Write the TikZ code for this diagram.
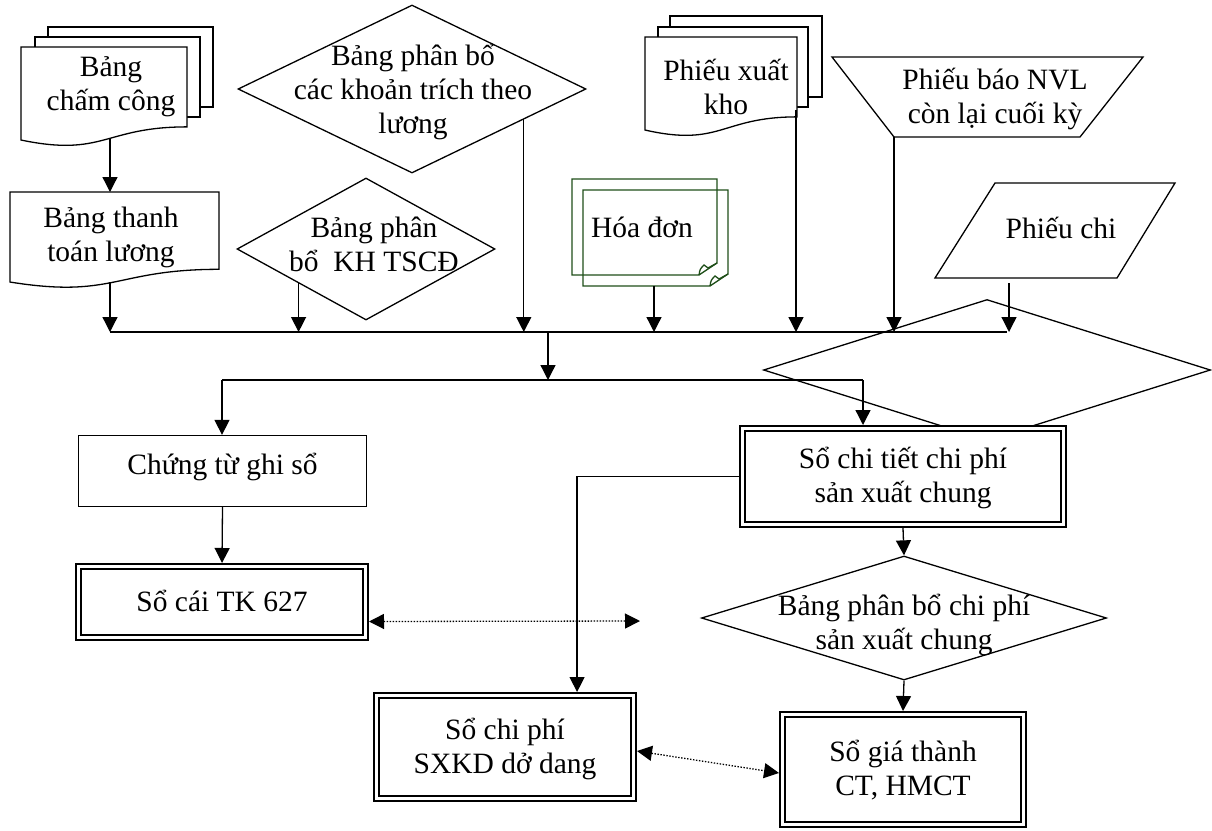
\documentclass[tikz,border=0pt]{standalone}
\usepackage{fontspec}
\setmainfont{Liberation Serif}
\usetikzlibrary{arrows.meta,shapes.geometric,calc}
\definecolor{sheetgreen}{RGB}{30,78,24}

% label font: lines always exactly one baselineskip apart
\newcommand\lblfont{\fontsize{29.5pt}{34pt}\selectfont\setlength{\lineskiplimit}{-100pt}}
% fixed line strut so that every label line has the same height and depth
\newcommand\ls{\rule[-8pt]{0pt}{34pt}}

% document sheet with a wavy lower edge: #1,#2 top-left corner, #3 width, #4 nominal height
\newcommand\docsheet[4]{%
  \draw[fill=white] (#1,#2) -- ({#1+#3},#2) -- ({#1+#3},{#2+0.802*#4})
    .. controls ({#1+0.5*#3},{#2+0.802*#4}) and ({#1+0.5*#3},{#2+1.1075*#4}) ..
    (#1,{#2+0.934*#4}) -- cycle;}

% sheet with a folded lower-right corner: #1,#2 top-left, #3,#4 bottom-right
\newcommand\foldedsheet[4]{%
  \draw[sheet] (#1,#2) -- (#3,#2) -- (#3,{#4-12}) -- ({#3-18},#4) -- (#1,#4) -- cycle;
  \draw[sheet] ({#3-18},#4) .. controls ({#3-17},{#4-6}) .. ({#3-13},{#4-10})
    -- ({#3-9},{#4-7}) -- (#3,{#4-12});}

\begin{document}
\begin{tikzpicture}[x=1pt,y=-1pt,line width=1.3pt,
  lbl/.style={font=\lblfont, align=center, inner sep=0pt},
  arr/.style={-{Triangle[length=15pt,width=15pt]}},
  dotarr/.style={{Triangle[length=15pt,width=15pt]}-{Triangle[length=15pt,width=15pt]},
                 dash pattern=on 1.4pt off 1.6pt},
  plainbox/.style={draw, fill=white, lbl},
  ledger/.style={draw, double, line width=2.4pt, double distance=2.2pt,
                 fill=white, outer sep=3.5pt, lbl},
  decision/.style={draw, diamond, inner sep=0pt},
  sheet/.style={draw=sheetgreen, line width=1.3pt}]

\useasboundingbox (0,0) rectangle (1212,830);

% ---------- source documents ----------
% Bảng chấm công (stack of sheets)
\draw[fill=white] (48,27) rectangle (213,107);
\draw[fill=white] (35,37) rectangle (200,117);
\docsheet{21}{47}{166}{99.6}
\node[lbl] (cc) at (111,84) {\ls Bảng\\\ls chấm công};
\coordinate (cc-out) at (110,139);

% Bảng thanh toán lương
\docsheet{10}{192}{209}{96.4}
\node[lbl] (tt) at (111,235) {\ls Bảng thanh\\\ls toán lương};
\coordinate (tt-in) at (110,192);
\coordinate (tt-out) at (110,282);

% Bảng phân bổ các khoản trích theo lương
\node[decision, minimum width=348pt, minimum height=168pt] (pb1) at (412,89) {};
\node[lbl] (pb1t) at (413,90.5) {\ls Bảng phân bổ\\\ls các khoản trích theo\\\ls lương};

% Bảng phân bổ KH TSCĐ
\node[decision, minimum width=258pt, minimum height=142pt] (pb2) at (366,249) {};
\node[lbl] (pb2t) at (374,245.5) {\ls Bảng phân\\\ls bổ\ \ KH TSCĐ};

% Hóa đơn
\foldedsheet{572}{179}{717}{275}
\foldedsheet{583}{190}{728}{286}
\node[lbl] (hd) at (642,228) {\ls Hóa đơn};
\coordinate (hd-out) at (654,286);

% Phiếu xuất kho (stack of sheets)
\draw[fill=white] (670,16) rectangle (822,97);
\draw[fill=white] (658,27) rectangle (808,107);
\docsheet{645}{37}{152}{99.6}
\node[lbl] (px) at (726,88) {\ls Phiếu xuất\\\ls kho};
\coordinate (px-out) at (796,110);

% Phiếu báo NVL còn lại cuối kỳ
\draw (832,57) -- (1143,57) -- (1080,137) -- (894,137) -- cycle;
\node[lbl] (nvl) at (995,97.5) {\ls Phiếu báo NVL\\\ls còn lại cuối kỳ};
\coordinate (nvl-out) at (894,137);

% Phiếu chi
\draw (995,183) -- (1175,183) -- (1117,278) -- (935,278) -- cycle;
\node[lbl] (pc) at (1061,229) {\ls Phiếu chi};
\coordinate (pc-out) at (1009,283);

% empty decision symbol
\node[decision, minimum width=447pt, minimum height=141pt] (bigd) at (987,370) {};

% ---------- books ----------
\node[plainbox, minimum width=288pt, minimum height=71pt, text height=22pt, text depth=16pt]
  (ctgs) at (222.5,471) {Chứng từ ghi sổ};
\node[ledger, minimum width=287pt, minimum height=71pt] (socai) at (222,602) {\ls Sổ cái TK 627};
\node[ledger, minimum width=321pt, minimum height=96pt] (sct) at (903,476.5) {\ls Sổ chi tiết chi phí\\\ls sản xuất chung};
\node[decision, minimum width=405pt, minimum height=124pt] (pbc) at (904,618) {};
\node[lbl] (pbct) at (904,623.5) {\ls Bảng phân bổ chi phí\\\ls sản xuất chung};
\node[ledger, minimum width=257pt, minimum height=103pt] (sxkd) at (505,747) {\ls Sổ chi phí\\\ls SXKD dở dang};
\node[ledger, minimum width=241pt, minimum height=110pt] (sgt) at (903,769.5) {\ls Sổ giá thành\\\ls CT, HMCT};

% ---------- collecting line ----------
\coordinate (busA) at (110,332);
\coordinate (busB) at (1007,332);
\draw (busA) -- (busB);

\draw[arr] (cc-out) -- (tt-in);
\draw[arr] (tt-out) -- (busA);
\coordinate (pb2-out) at ($(pb2.west)!0.48!(pb2.south)$);
\draw[arr] (pb2-out) -- (pb2-out |- busA);
\coordinate (pb1-out) at ($(pb1.east)!0.36!(pb1.south)$);
\draw[arr] (pb1-out) -- (pb1-out |- busA);
\draw[arr] (hd-out) -- (hd-out |- busA);
\draw[arr] (px-out) -- (px-out |- busA);
\draw[arr] (nvl-out) -- (nvl-out |- busA);
\draw[arr] (pc-out) -- (pc-out |- busA);

% ---------- distribution line ----------
\coordinate (merge) at (548,332);
\coordinate (split) at (548,380);
\draw[arr] (merge) -- (split);
\coordinate (b2L) at (222,380);
\coordinate (b2R) at (863,380);
\draw (b2L) -- (b2R);
\draw[arr] (b2L) -- (b2L |- ctgs.north);
\draw[arr] (b2R) -- (b2R |- sct.north);

% ---------- book flows ----------
\draw[arr] (ctgs.south) -- (socai.north);
\draw[arr] (sct.south) -- (pbc.north);
\draw[arr] (pbc.south) -- (sgt.north);
\draw[arr] (sct.west) -| ($(sxkd.north west)!0.773!(sxkd.north east)$);

% ---------- reconciliation ----------
\coordinate (dotend) at (640,621);
\draw[dotarr] ($(socai.north east)!0.75!(socai.south east)$) -- (dotend);
\draw[dotarr] ($(sxkd.east)+(0,4)$) -- ($(sgt.west)+(0,3.5)$);

\end{tikzpicture}
\end{document}
